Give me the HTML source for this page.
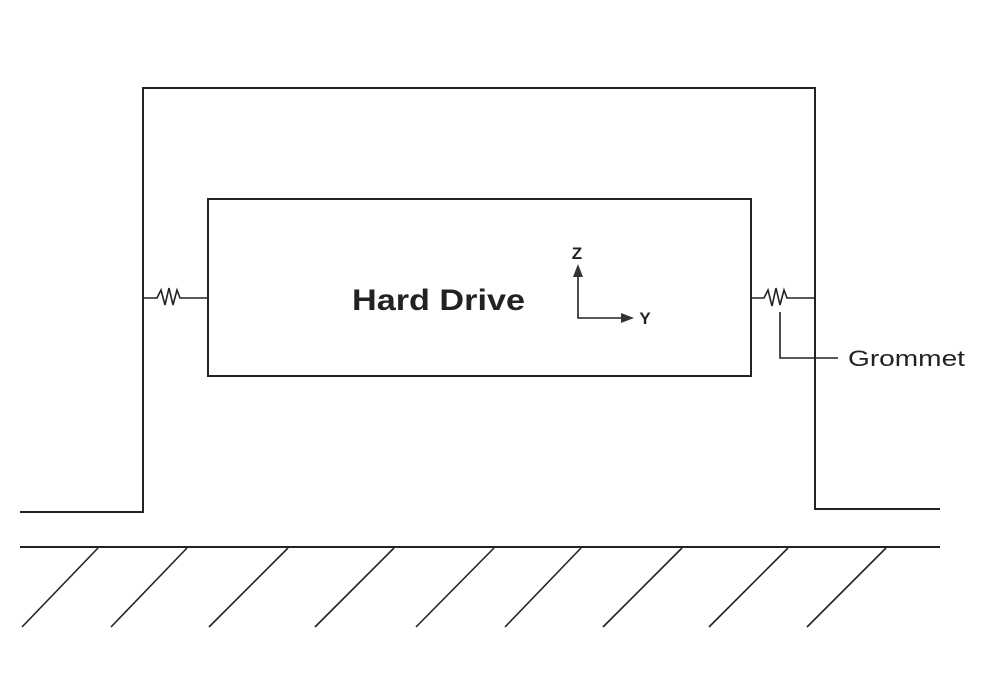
<!DOCTYPE html>
<html><head><meta charset="utf-8"><style>html,body{margin:0;padding:0;background:#fff}svg{display:block}</style></head>
<body>
<svg width="988" height="689" viewBox="0 0 988 689" xmlns="http://www.w3.org/2000/svg">
<g fill="none" stroke="#222" stroke-width="2">
<polyline points="20,512 143,512 143,88 815,88 815,509 940,509"/>
<rect x="208" y="199" width="543" height="177"/>
<line x1="20" y1="547" x2="940" y2="547"/>
<g stroke-width="1.6">
<line x1="98" y1="548" x2="22" y2="627"/>
<line x1="187" y1="548" x2="111" y2="627"/>
<line x1="288" y1="548" x2="209" y2="627"/>
<line x1="394" y1="548" x2="315" y2="627"/>
<line x1="494" y1="548" x2="416" y2="627"/>
<line x1="581" y1="548" x2="505" y2="627"/>
<line x1="682" y1="548" x2="603" y2="627"/>
<line x1="788" y1="548" x2="709" y2="627"/>
<line x1="886" y1="548" x2="807" y2="627"/>
</g>
<g stroke-width="1.6">
<polyline points="143,298 157,298 161,290 165,305 169,288 173,305 177,290 180,298 208,298"/>
<polyline points="751,298 764,298 768,290 772,306 776,288 780,305 784,290 787,298 815,298"/>
<polyline points="780,312 780,358 838,358"/>
<polyline points="578,275 578,318 624,318"/>
</g>
</g>
<polygon points="578,264 573,277 583,277" fill="#333"/>
<polygon points="634,318 621,313 621,323" fill="#333"/>
<g font-family="Liberation Sans, sans-serif" fill="#222">
<text x="352" y="310" font-size="30" font-weight="bold" textLength="173" lengthAdjust="spacingAndGlyphs">Hard Drive</text>
<text x="577" y="259" font-size="17" font-weight="bold" text-anchor="middle">Z</text>
<text x="645" y="324" font-size="17" font-weight="bold" text-anchor="middle">Y</text>
<text x="848" y="366" font-size="22" textLength="117" lengthAdjust="spacingAndGlyphs">Grommet</text>
</g>
</svg>
</body></html>
